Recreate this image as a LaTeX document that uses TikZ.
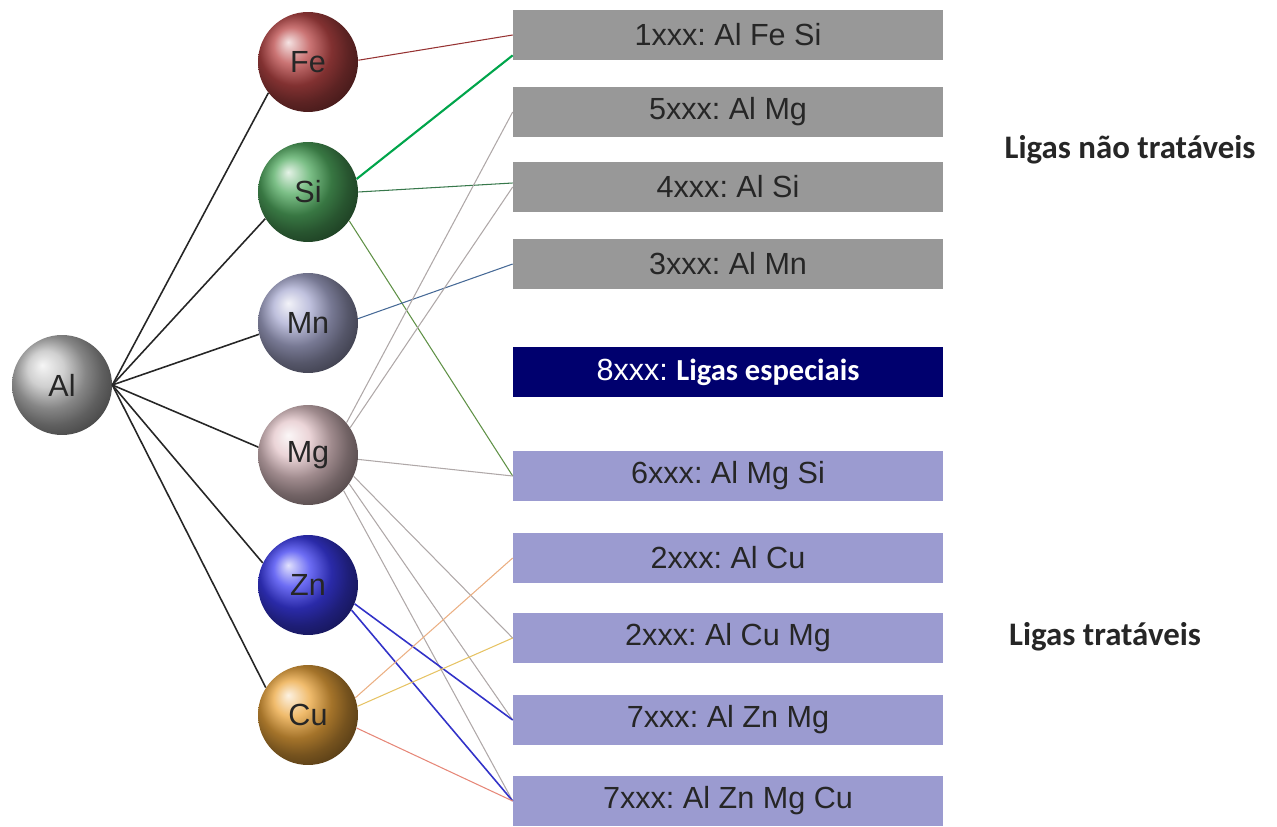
\documentclass[tikz,border=0pt]{standalone}
\usepackage{fontspec}
\setmainfont{Liberation Sans}
\newfontfamily\calibri{Carlito}
\definecolor{boxgray}{RGB}{152,152,152}
\definecolor{boxlav}{RGB}{155,155,208}
\definecolor{boxnavy}{RGB}{0,0,110}
\frenchspacing
\begin{document}
\begin{tikzpicture}[x=0.02cm, y=-0.02cm,
    every node/.append style={font=\fontsize{17.4}{20}\selectfont},
    atom/.style={circle, minimum size=2cm, inner sep=0pt, text=black!85},
    alloy/.style={minimum width=8.6cm, minimum height=1cm, inner sep=0pt, text=black!85},
    link/.style={line width=0.6pt}]
    \tikzstyle{group} = [font=\calibri\bfseries\fontsize{18.7}{22}\selectfont, text=black!85]
    \useasboundingbox (0,0) rectangle (1277,827);
    % elements
    \node (Al) [atom, ball color=black!25] at (62,385) {Al};
    \node (Fe) [atom, ball color={rgb,255:red,185;green,70;blue,70}] at (308,62) {Fe};
    \node (Si) [atom, ball color={rgb,255:red,80;green,170;blue,95}] at (308,192) {Si};
    \node (Mn) [atom, ball color={rgb,255:red,170;green,172;blue,210}] at (308,323) {Mn};
    \node (Mg) [atom, ball color={rgb,255:red,228;green,198;blue,202}] at (308,455) {Mg};
    \node (Zn) [atom, ball color={rgb,255:red,60;green,60;blue,240}] at (308,585) {Zn};
    \node (Cu) [atom, ball color={rgb,255:red,235;green,165;blue,60}] at (308,715) {Cu};
    % series
    \node (x1) [alloy, fill=boxgray] at (728,35) {1xxx: Al Fe Si};
    \node (x5) [alloy, fill=boxgray] at (728,112) {5xxx: Al Mg};
    \node (x4) [alloy, fill=boxgray] at (728,187) {4xxx: Al Si};
    \node (x3) [alloy, fill=boxgray] at (728,264) {3xxx: Al Mn};
    \node (x8) [alloy, fill=boxnavy, text=white] at (728,372) {8xxx: {\calibri\bfseries Ligas especiais}};
    \node (x6) [alloy, fill=boxlav] at (728,476) {6xxx: Al Mg Si};
    \node (x2) [alloy, fill=boxlav] at (728,558) {2xxx: Al Cu};
    \node (x2m) [alloy, fill=boxlav] at (728,638) {2xxx: Al Cu Mg};
    \node (x7) [alloy, fill=boxlav] at (728,720) {7xxx: Al Zn Mg};
    \node (x7c) [alloy, fill=boxlav] at (728,801) {7xxx: Al Zn Mg Cu};
    \node (naotrat) [group] at (1130,150) {Ligas não tratáveis};
    \node (trat) [group] at (1105,637) {Ligas tratáveis};
    % Al to elements
    \foreach \el/\ang in {Fe/218, Si/212, Mn/193, Mg/171, Zn/154, Cu/147}
      \draw [line width=0.9pt, black!85] (Al.east) -- (\el.\ang);
    % elements to series
    \draw [link, color={rgb,255:red,150;green,50;blue,50}] (Fe.2) -- (x1.west);
    \draw [line width=1.2pt, color={rgb,255:red,0;green,165;blue,75}] (Si.15) -- ([yshift=0.1cm]x1.south west);
    \draw [link, color={rgb,255:red,55;green,120;blue,75}] (Si.east) -- ([yshift=0.08cm]x4.west);
    \draw [link, color={rgb,255:red,95;green,145;blue,70}] (Si.-35) -- (x6.west);
    \draw [link, color={rgb,255:red,70;green,105;blue,150}] (Mn.5) -- (x3.west);
    \foreach \ang/\bx in {40/x5, 33/x4, -5/x6, -25/x2m, -35/x7, -45/x7c}
      \draw [link, color={rgb,255:red,175;green,168;blue,168}] (Mg.\ang) -- (\bx.west);
    \foreach \ang/\bx in {-22/x7, -30/x7c}
      \draw [line width=0.9pt, color={rgb,255:red,50;green,50;blue,200}] (Zn.\ang) -- (\bx.west);
    \draw [link, color={rgb,255:red,235;green,175;blue,130}] (Cu.20) -- (x2.west);
    \draw [link, color={rgb,255:red,230;green,195;blue,100}] (Cu.10) -- (x2m.west);
    \draw [link, color={rgb,255:red,230;green,135;blue,120}] (Cu.-15) -- (x7c.west);
\end{tikzpicture}
\end{document}
